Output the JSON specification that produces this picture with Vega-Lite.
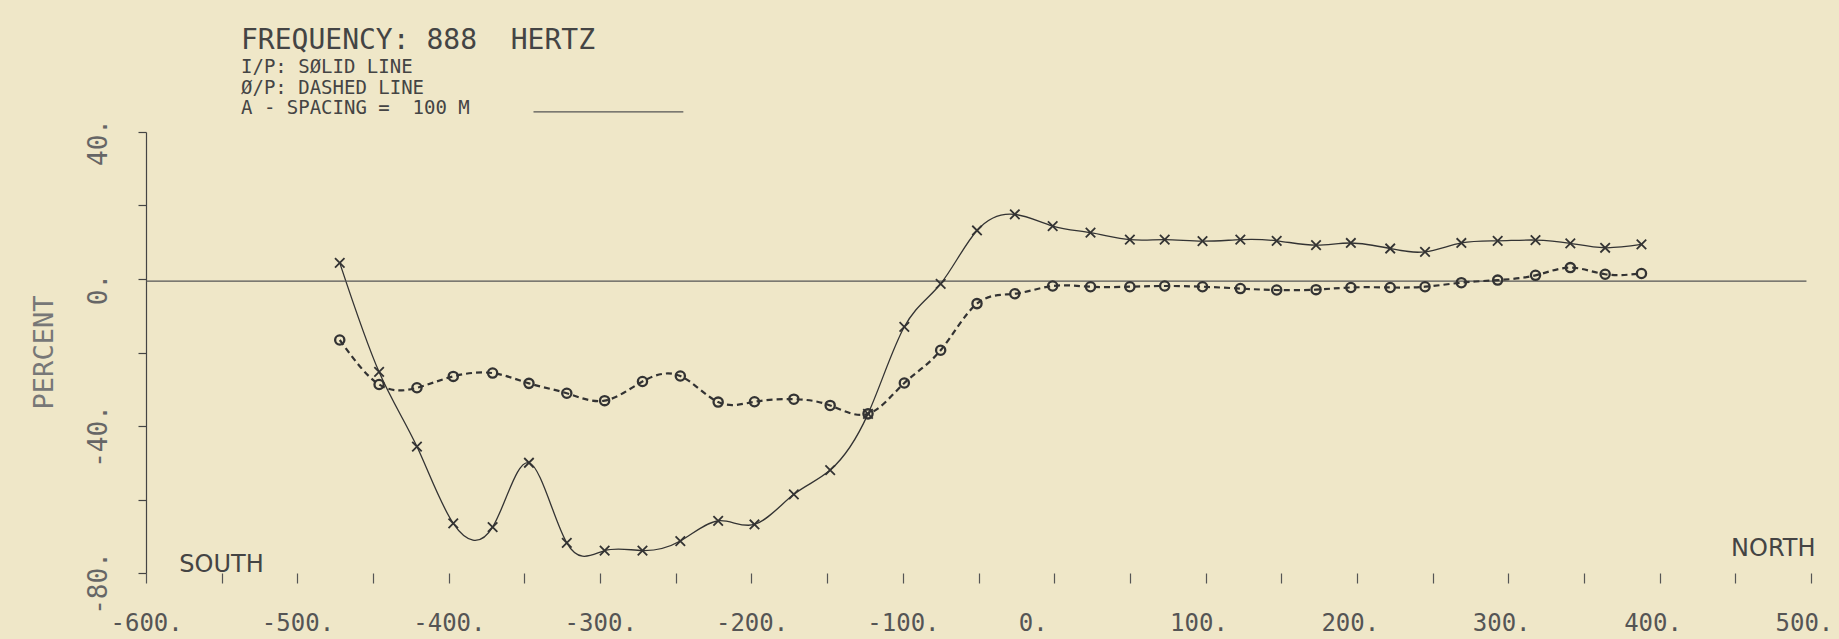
{
  "$schema": "https://vega.github.io/schema/vega-lite/v6.json",
  "width": 1665,
  "height": 441,
  "autosize": "none",
  "padding": {"left": 146, "top": 132, "right": 28, "bottom": 66},
  "background": "#efe7c8",
  "config": {"view": {"stroke": null}, "font": "DejaVu Sans Mono"},
  "title": {
    "text": "FREQUENCY: 888\u00a0 HERTZ",
    "subtitle": ["I/P: SØLID LINE", "Ø/P: DASHED LINE", "A - SPACING =\u00a0 100 M"],
    "anchor": "start",
    "frame": "group",
    "dx": 95,
    "dy": 21,
    "offset": 14,
    "font": "DejaVu Sans Mono",
    "fontSize": 28,
    "fontWeight": "normal",
    "color": "#444444",
    "subtitleFont": "DejaVu Sans Mono",
    "subtitleFontSize": 19,
    "subtitleColor": "#444444",
    "subtitleLineHeight": 20.5,
    "subtitlePadding": 3
  },
  "datasets": {
    "profile": [
      {"pos": -472, "pct": 4.4, "series": "IP"},
      {"pos": -446, "pct": -25.3, "series": "IP"},
      {"pos": -421, "pct": -45.6, "series": "IP"},
      {"pos": -397, "pct": -66.5, "series": "IP"},
      {"pos": -371, "pct": -67.5, "series": "IP"},
      {"pos": -347, "pct": -50.0, "series": "IP"},
      {"pos": -322, "pct": -71.8, "series": "IP"},
      {"pos": -297, "pct": -73.9, "series": "IP"},
      {"pos": -272, "pct": -73.9, "series": "IP"},
      {"pos": -247, "pct": -71.3, "series": "IP"},
      {"pos": -222, "pct": -65.8, "series": "IP"},
      {"pos": -198, "pct": -66.8, "series": "IP"},
      {"pos": -172, "pct": -58.6, "series": "IP"},
      {"pos": -148, "pct": -52.0, "series": "IP"},
      {"pos": -123, "pct": -36.7, "series": "IP"},
      {"pos": -99, "pct": -13.0, "series": "IP"},
      {"pos": -75, "pct": -1.3, "series": "IP"},
      {"pos": -51, "pct": 13.2, "series": "IP"},
      {"pos": -26, "pct": 17.6, "series": "IP"},
      {"pos": -1, "pct": 14.4, "series": "IP"},
      {"pos": 24, "pct": 12.6, "series": "IP"},
      {"pos": 50, "pct": 10.7, "series": "IP"},
      {"pos": 73, "pct": 10.7, "series": "IP"},
      {"pos": 98, "pct": 10.3, "series": "IP"},
      {"pos": 123, "pct": 10.7, "series": "IP"},
      {"pos": 147, "pct": 10.4, "series": "IP"},
      {"pos": 173, "pct": 9.2, "series": "IP"},
      {"pos": 196, "pct": 9.8, "series": "IP"},
      {"pos": 222, "pct": 8.3, "series": "IP"},
      {"pos": 245, "pct": 7.4, "series": "IP"},
      {"pos": 269, "pct": 9.8, "series": "IP"},
      {"pos": 293, "pct": 10.4, "series": "IP"},
      {"pos": 318, "pct": 10.6, "series": "IP"},
      {"pos": 341, "pct": 9.7, "series": "IP"},
      {"pos": 364, "pct": 8.5, "series": "IP"},
      {"pos": 388, "pct": 9.4, "series": "IP"},
      {"pos": -472, "pct": -16.6, "series": "OP"},
      {"pos": -446, "pct": -28.7, "series": "OP"},
      {"pos": -421, "pct": -29.6, "series": "OP"},
      {"pos": -397, "pct": -26.5, "series": "OP"},
      {"pos": -371, "pct": -25.6, "series": "OP"},
      {"pos": -347, "pct": -28.4, "series": "OP"},
      {"pos": -322, "pct": -31.1, "series": "OP"},
      {"pos": -297, "pct": -33.1, "series": "OP"},
      {"pos": -272, "pct": -27.9, "series": "OP"},
      {"pos": -247, "pct": -26.4, "series": "OP"},
      {"pos": -222, "pct": -33.5, "series": "OP"},
      {"pos": -198, "pct": -33.4, "series": "OP"},
      {"pos": -172, "pct": -32.7, "series": "OP"},
      {"pos": -148, "pct": -34.4, "series": "OP"},
      {"pos": -123, "pct": -36.7, "series": "OP"},
      {"pos": -99, "pct": -28.3, "series": "OP"},
      {"pos": -75, "pct": -19.4, "series": "OP"},
      {"pos": -51, "pct": -6.7, "series": "OP"},
      {"pos": -26, "pct": -4.0, "series": "OP"},
      {"pos": -1, "pct": -1.9, "series": "OP"},
      {"pos": 24, "pct": -2.1, "series": "OP"},
      {"pos": 50, "pct": -2.1, "series": "OP"},
      {"pos": 73, "pct": -1.9, "series": "OP"},
      {"pos": 98, "pct": -2.1, "series": "OP"},
      {"pos": 123, "pct": -2.6, "series": "OP"},
      {"pos": 147, "pct": -3.0, "series": "OP"},
      {"pos": 173, "pct": -2.9, "series": "OP"},
      {"pos": 196, "pct": -2.3, "series": "OP"},
      {"pos": 222, "pct": -2.3, "series": "OP"},
      {"pos": 245, "pct": -2.1, "series": "OP"},
      {"pos": 269, "pct": -1.0, "series": "OP"},
      {"pos": 293, "pct": -0.3, "series": "OP"},
      {"pos": 318, "pct": 1.0, "series": "OP"},
      {"pos": 341, "pct": 3.1, "series": "OP"},
      {"pos": 364, "pct": 1.3, "series": "OP"},
      {"pos": 388, "pct": 1.5, "series": "OP"}
    ]
  },
  "data": {"name": "profile"},
  "layer": [
    {
      "transform": [{"filter": "datum.series === 'IP'"}],
      "mark": {"type": "line", "interpolate": "natural", "color": "#333333", "strokeWidth": 1.3},
      "encoding": {
        "x": {
          "field": "pos", "type": "quantitative",
          "scale": {"domain": [-600, 500], "nice": false, "zero": false},
          "axis": {
            "values": [-600, -550, -500, -450, -400, -350, -300, -250, -200, -150, -100, -50, 0, 50, 100, 150, 200, 250, 300, 350, 400, 450, 500],
            "labelExpr": "datum.value % 100 === 0 ? datum.value + '.' : ''",
            "domain": false,
            "grid": false,
            "ticks": true,
            "tickSize": 10,
            "tickColor": "#555555",
            "tickWidth": 1.2,
            "labelFont": "DejaVu Sans Mono",
            "labelFontSize": 24,
            "labelColor": "#555555",
            "labelBaseline": "alphabetic",
            "labelAlign": "left",
            "labelOffset": -36,
            "labelPadding": 47,
            "labelOverlap": false,
            "labelFlush": false,
            "labelBound": false,
            "title": null
          }
        },
        "y": {
          "field": "pct", "type": "quantitative",
          "scale": {"domain": [-80, 40], "nice": false, "zero": false},
          "axis": {
            "values": [-80, -60, -40, -20, 0, 20, 40],
            "labelExpr": "datum.value % 40 === 0 ? datum.value + '.' : ''",
            "domain": true,
            "domainColor": "#444444",
            "domainWidth": 1.2,
            "grid": false,
            "ticks": true,
            "tickSize": 8,
            "tickColor": "#444444",
            "tickWidth": 1.2,
            "labelFont": "DejaVu Sans Mono",
            "labelFontSize": 26,
            "labelColor": "#666666",
            "labelAngle": 270,
            "labelAlign": "center",
            "labelBaseline": "alphabetic",
            "labelPadding": 32,
            "labelOffset": 10,
            "labelOverlap": false,
            "labelFlush": false,
            "title": "PERCENT",
            "titleFont": "DejaVu Sans Mono",
            "titleFontSize": 27,
            "titleFontWeight": "normal",
            "titleColor": "#777777",
            "titleAngle": 270,
            "titleAlign": "center",
            "titleBaseline": "alphabetic",
            "titleX": -94,
            "titleY": 220
          }
        }
      }
    },
    {
      "data": {"values": [{}]},
      "mark": {"type": "rule", "color": "#555555", "strokeWidth": 1.2},
      "encoding": {
        "x": {"datum": -600, "type": "quantitative"},
        "x2": {"datum": 497},
        "y": {"datum": -0.6, "type": "quantitative"}
      }
    },
    {
      "data": {"values": [{}]},
      "mark": {"type": "rule", "color": "#555555", "strokeWidth": 1.2},
      "encoding": {
        "x": {"datum": -344, "type": "quantitative"},
        "x2": {"datum": -245},
        "y": {"datum": 45.5, "type": "quantitative"}
      }
    },
    {
      "transform": [{"filter": "datum.series === 'OP'"}],
      "mark": {"type": "line", "interpolate": "natural", "color": "#333333", "strokeWidth": 2.2, "strokeDash": [6, 4]},
      "encoding": {
        "x": {"field": "pos", "type": "quantitative"},
        "y": {"field": "pct", "type": "quantitative"}
      }
    },
    {
      "transform": [{"filter": "datum.series === 'IP'"}],
      "mark": {"type": "point", "shape": "M-1,-1L1,1M-1,1L1,-1", "filled": false, "stroke": "#333333", "strokeWidth": 1.8, "size": 90, "opacity": 1},
      "encoding": {
        "x": {"field": "pos", "type": "quantitative"},
        "y": {"field": "pct", "type": "quantitative"}
      }
    },
    {
      "transform": [{"filter": "datum.series === 'OP'"}],
      "mark": {"type": "point", "shape": "circle", "filled": false, "stroke": "#333333", "strokeWidth": 2.3, "size": 85, "opacity": 1},
      "encoding": {
        "x": {"field": "pos", "type": "quantitative"},
        "y": {"field": "pct", "type": "quantitative"}
      }
    },
    {
      "data": {"values": [{}]},
      "mark": {"type": "text", "font": "DejaVu Sans", "fontSize": 24, "color": "#444444", "align": "left", "baseline": "middle"},
      "encoding": {
        "x": {"datum": -578, "type": "quantitative"},
        "y": {"datum": -77.7, "type": "quantitative"},
        "text": {"value": "SOUTH"}
      }
    },
    {
      "data": {"values": [{}]},
      "mark": {"type": "text", "font": "DejaVu Sans", "fontSize": 24, "color": "#444444", "align": "right", "baseline": "middle"},
      "encoding": {
        "x": {"datum": 503, "type": "quantitative"},
        "y": {"datum": -73.4, "type": "quantitative"},
        "text": {"value": "NORTH"}
      }
    }
  ]
}
